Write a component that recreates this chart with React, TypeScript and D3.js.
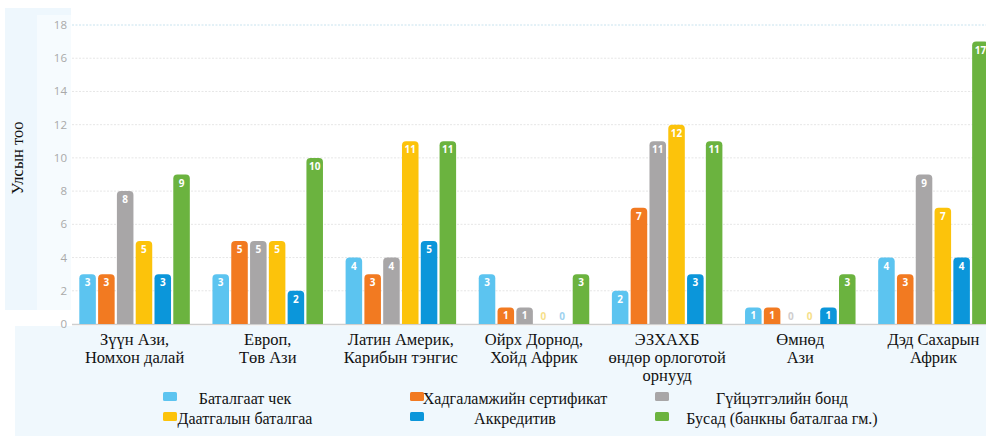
import React from "react";
import * as d3 from "d3";

const categories: string[][] = [
  ["Зүүн Ази,", "Номхон далай"],
  ["Европ,", "Төв Ази"],
  ["Латин Америк,", "Карибын тэнгис"],
  ["Ойрх Дорнод,", "Хойд Африк"],
  ["ЭЗХАХБ", "өндөр орлоготой", "орнууд"],
  ["Өмнөд", "Ази"],
  ["Дэд Сахарын", "Африк"],
];

const seriesNames = [
  "Баталгаат чек",
  "Хадгаламжийн сертификат",
  "Гүйцэтгэлийн бонд",
  "Даатгалын баталгаа",
  "Аккредитив",
  "Бусад (банкны баталгаа гм.)",
];

const seriesColors = ["#5cc4f0", "#f27a21", "#a8a6a7", "#fcc30b", "#0b96da", "#6bb33f"];
const zeroColors = ["#b9e6f9", "#f8c29b", "#cfcdce", "#f6e08a", "#9fd2ef", "#bde0a8"];

const balaltaatChek = [3, 3, 4, 3, 2, 1, 4];
const khadgalamj = [3, 5, 3, 1, 7, 1, 3];
const guitsetgel = [8, 5, 4, 1, 11, 0, 9];
const daatgal = [5, 5, 11, 0, 12, 0, 7];
const akkreditiv = [3, 2, 5, 0, 3, 1, 4];
const busad = [9, 10, 11, 3, 11, 3, 17];
const seriesValues = [balaltaatChek, khadgalamj, guitsetgel, daatgal, akkreditiv, busad];

const yTicks = [0, 2, 4, 6, 8, 10, 12, 14, 16, 18];

const W = 986;
const H = 436;
const SERIF = "Liberation Serif";
const SANS = "Open Sans";

function topRoundedBar(x: number, y: number, w: number, h: number, r: number) {
  const rr = Math.min(r, h, w / 2);
  const p = d3.path();
  p.moveTo(x, y + h);
  p.lineTo(x, y + rr);
  p.arcTo(x, y, x + rr, y, rr);
  p.lineTo(x + w - rr, y);
  p.arcTo(x + w, y, x + w, y + rr, rr);
  p.lineTo(x + w, y + h);
  p.closePath();
  return p.toString();
}

export default function App() {
  const catKeys = categories.map((c) => c.join(" "));
  const x0 = d3.scaleBand<string>().domain(catKeys).range([68, 1000]).paddingInner(0.17).paddingOuter(0.085);
  const x1 = d3
    .scaleBand<number>()
    .domain(d3.range(seriesNames.length))
    .range([0, x0.bandwidth()])
    .paddingInner(0.12)
    .paddingOuter(0);
  const y = d3.scaleLinear().domain([0, 18]).range([324, 25]);

  const legendCols = [
    { sx: 163, tx: 245 },
    { sx: 410, tx: 515 },
    { sx: 655, tx: 782 },
  ];
  const legendRows = [404, 424];

  return (
    <svg width={W} height={H} style={{ position: "absolute", left: 0, top: 0, display: "block" }}>
      <rect x={0} y={0} width={W} height={H} fill="#ffffff" />
      <rect x={5} y={8} width={66} height={302} fill="#eef7fd" />
      <rect x={37} y={15} width={34} height={295} fill="#f6fbfe" />
      <rect x={15} y={326} width={W - 15} height={H - 326} fill="#f0f8fd" />
      <rect x={71} y={10} width={W - 71} height={316} fill="#ffffff" />

      {yTicks.map((t) => (
        <g key={t}>
          {t > 0 && (
            <line
              x1={72}
              x2={W}
              y1={y(t)}
              y2={y(t)}
              stroke={t === 18 ? "#c8e3ef" : "#e6e6e6"}
              strokeWidth={1}
              strokeDasharray="2,1.5"
            />
          )}
          <text
            x={67}
            y={y(t)}
            dy="0.35em"
            textAnchor="end"
            style={{ fontFamily: SANS }}
            fontSize={11.5}
            fill="#a9a9a9"
          >
            {t}
          </text>
        </g>
      ))}
      <line x1={72} x2={W} y1={y(0) + 0.5} y2={y(0) + 0.5} stroke="#cfcfcf" strokeWidth={1.5} />

      {categories.map((cat, ci) => {
        const gx = x0(catKeys[ci]) as number;
        return (
          <g key={ci}>
            {seriesValues.map((vals, si) => {
              const v = vals[ci];
              const bx = gx + (x1(si) as number);
              const bw = x1.bandwidth();
              const cx = bx + bw / 2;
              if (v === 0) {
                return (
                  <text
                    key={si}
                    x={cx}
                    y={y(0) - 4}
                    textAnchor="middle"
                    style={{ fontFamily: SANS }}
                    fontWeight="bold"
                    fontSize={10}
                    fill={zeroColors[si]}
                  >
                    0
                  </text>
                );
              }
              const top = y(v);
              return (
                <g key={si}>
                  <path d={topRoundedBar(bx, top, bw, y(0) - top, 4)} fill={seriesColors[si]} />
                  <text
                    x={cx}
                    y={top + 12}
                    textAnchor="middle"
                    style={{ fontFamily: SANS }}
                    fontWeight="bold"
                    fontSize={10}
                    fill="#ffffff"
                  >
                    {v}
                  </text>
                </g>
              );
            })}
            <text textAnchor="middle" style={{ fontFamily: SERIF }} fontSize={16.5} fill="#111">
              {cat.map((line, li) => (
                <tspan key={li} x={gx + x0.bandwidth() / 2} y={345 + li * 18}>
                  {line}
                </tspan>
              ))}
            </text>
          </g>
        );
      })}

      <text
        transform={`translate(23,158) rotate(-90)`}
        textAnchor="middle"
        style={{ fontFamily: SERIF }}
        fontSize={16.5}
        fill="#111"
      >
        Улсын тоо
      </text>

      {seriesNames.map((name, i) => {
        const col = legendCols[i % 3];
        const ry = legendRows[Math.floor(i / 3)];
        return (
          <g key={i}>
            <rect x={col.sx} y={ry - 12} width={14} height={9} fill={seriesColors[i]} rx={1.5} />
            <text x={col.tx} y={ry} textAnchor="middle" style={{ fontFamily: SERIF }} fontSize={16} fill="#111">
              {name}
            </text>
          </g>
        );
      })}
    </svg>
  );
}
